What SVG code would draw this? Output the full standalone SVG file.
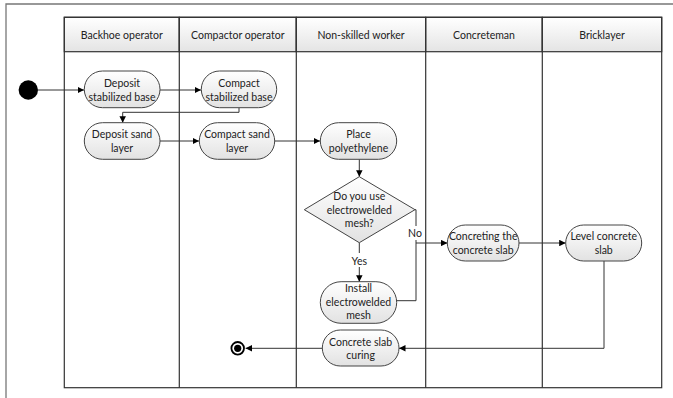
<svg xmlns="http://www.w3.org/2000/svg" width="673" height="398" viewBox="0 0 673 398">
  <defs>
    <linearGradient id="headFill" x1="0" y1="0" x2="0" y2="1">
      <stop offset="0" stop-color="#ffffff"/>
      <stop offset="1" stop-color="#e4e4e4"/>
    </linearGradient>
    <linearGradient id="nodeFill" x1="0" y1="0" x2="0" y2="1">
      <stop offset="0" stop-color="#ffffff"/>
      <stop offset="1" stop-color="#e2e2e2"/>
    </linearGradient>
    <marker id="arrow" viewBox="0 0 8 8" refX="8" refY="4" markerWidth="6.5" markerHeight="6.5" markerUnits="userSpaceOnUse" orient="auto">
      <path d="M0,0 L8,4 L0,8 Z" fill="#000"/>
    </marker>
  </defs>
  <style>
    text { font-family: Lato, "Liberation Sans", sans-serif; font-size: 10.5px; fill: #222; text-anchor: middle; }
    .lane { fill: none; stroke: #333; stroke-width: 1.2; }
    .head { fill: url(#headFill); stroke: #333; stroke-width: 1.2; }
    .act { fill: url(#nodeFill); stroke: #444; stroke-width: 1; }
    .edge { fill: none; stroke: #333; stroke-width: 1; marker-end: url(#arrow); }
    .line { fill: none; stroke: #333; stroke-width: 1; }
    .lbl { fill: #fff; }
  </style>

  <rect width="673" height="398" fill="#fff"/>
  <!-- outer frame -->
  <path d="M6,398 V4 H673" fill="none" stroke="#777" stroke-width="1.3"/>

  <!-- swimlane pool -->
  <g id="pool">
    <rect class="head" x="64.3" y="17.3" width="115" height="34.4"/>
    <rect class="head" x="179.3" y="17.3" width="117" height="34.4"/>
    <rect class="head" x="296.3" y="17.3" width="129.4" height="34.4"/>
    <rect class="head" x="425.7" y="17.3" width="116.6" height="34.4"/>
    <rect class="head" x="542.3" y="17.3" width="119.4" height="34.4"/>
    <rect class="lane" x="64.3" y="17.3" width="597.4" height="370.4"/>
    <path class="lane" d="M179.3,17.3 V387.7 M296.3,17.3 V387.7 M425.7,17.3 V387.7 M542.3,17.3 V387.7"/>
    <text x="121.8" y="38.5">Backhoe operator</text>
    <text x="237.8" y="38.5">Compactor operator</text>
    <text x="361" y="38.5">Non-skilled worker</text>
    <text x="484" y="38.5">Concreteman</text>
    <text x="602" y="38.5">Bricklayer</text>
  </g>

  <!-- connectors -->
  <g id="connectors">
    <path class="edge" d="M38,90 H84"/>
    <path class="edge" d="M160,90 H201"/>
    <path class="edge" d="M239,107.7 V112.3 H122.7 V122.7"/>
    <path class="edge" d="M160,141 H199"/>
    <path class="edge" d="M275,141 H320"/>
    <path class="edge" d="M359.3,159.3 V176.7"/>
    <path class="edge" d="M359.3,242.7 V281.7"/>
    <path class="line" d="M415,209.7 H416 V243"/>
    <path class="line" d="M396.7,300.7 H416 V243"/>
    <path class="edge" d="M416,243 H447.3"/>
    <path class="edge" d="M519,243 H565.7"/>
    <path class="edge" d="M604,261 V348.3 H399"/>
    <path class="edge" d="M322,348.3 H245.5"/>
    <rect class="lbl" x="350" y="253" width="19" height="14"/>
    <text x="359.3" y="264.5">Yes</text>
    <rect class="lbl" x="407" y="226" width="16" height="14"/>
    <text x="415" y="237">No</text>
  </g>

  <!-- start / end -->
  <g id="start">
    <circle cx="28.3" cy="90" r="9.7" fill="#000"/>
  </g>
  <g id="end">
    <circle cx="237.7" cy="348.3" r="6.3" fill="#fff" stroke="#000" stroke-width="1.8"/>
    <circle cx="237.7" cy="348.3" r="3.6" fill="#000"/>
  </g>

  <!-- activities -->
  <g id="deposit-stabilized-base">
    <rect class="act" x="84.3" y="71" width="75.7" height="36.7" rx="18.3"/>
    <text x="122" y="86.5">Deposit</text>
    <text x="122" y="100.5">stabilized base</text>
  </g>
  <g id="compact-stabilized-base">
    <rect class="act" x="201.3" y="71" width="75.4" height="36.7" rx="18.3"/>
    <text x="239" y="86.5">Compact</text>
    <text x="239" y="100.5">stabilized base</text>
  </g>
  <g id="deposit-sand-layer">
    <rect class="act" x="84.3" y="122.7" width="75.7" height="36.6" rx="18.3"/>
    <text x="122" y="138">Deposit sand</text>
    <text x="122" y="152">layer</text>
  </g>
  <g id="compact-sand-layer">
    <rect class="act" x="199.3" y="122.7" width="75.4" height="36.6" rx="18.3"/>
    <text x="237" y="138">Compact sand</text>
    <text x="237" y="152">layer</text>
  </g>
  <g id="place-polyethylene">
    <rect class="act" x="320.3" y="122.7" width="76.4" height="36.6" rx="18.3"/>
    <text x="358.5" y="138">Place</text>
    <text x="358.5" y="152">polyethylene</text>
  </g>
  <g id="decision">
    <polygon class="act" points="359.3,176.7 415,209.7 359.3,242.7 304.3,209.7"/>
    <text x="359.3" y="200">Do you use</text>
    <text x="359.3" y="213.5">electrowelded</text>
    <text x="359.3" y="227">mesh?</text>
  </g>
  <g id="install-electrowelded-mesh">
    <rect class="act" x="320.3" y="281.7" width="76.4" height="41.6" rx="20.8"/>
    <text x="358.5" y="292.3">Install</text>
    <text x="358.5" y="305.7">electrowelded</text>
    <text x="358.5" y="319">mesh</text>
  </g>
  <g id="concrete-slab-curing">
    <rect class="act" x="322.3" y="330" width="76.7" height="36" rx="18"/>
    <text x="360.6" y="345.5">Concrete slab</text>
    <text x="360.6" y="359">curing</text>
  </g>
  <g id="concreting-the-concrete-slab">
    <rect class="act" x="447.3" y="225" width="71.7" height="36" rx="18"/>
    <text x="483.2" y="240">Concreting the</text>
    <text x="483.2" y="254">concrete slab</text>
  </g>
  <g id="level-concrete-slab">
    <rect class="act" x="565.7" y="225" width="76" height="36" rx="18"/>
    <text x="603.7" y="240">Level concrete</text>
    <text x="603.7" y="254">slab</text>
  </g>
</svg>
